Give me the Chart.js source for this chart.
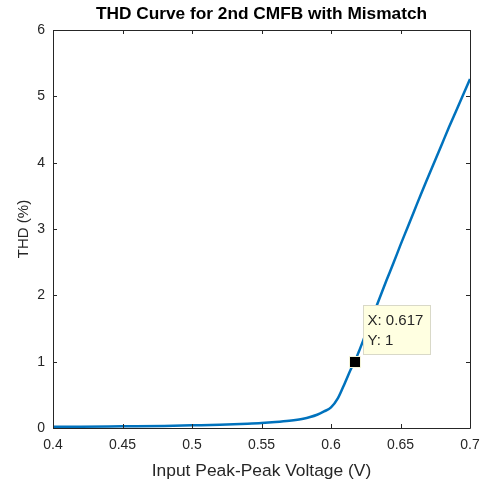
<!DOCTYPE html>
<html>
<head>
<meta charset="utf-8">
<script src="https://cdn.jsdelivr.net/npm/chart.js@4"></script>
<style>
  html, body { margin: 0; padding: 0; background: #fff; }
  #wrap { width: 483px; height: 482px; }
</style>
</head>
<body>
<div id="wrap"><canvas id="thd"></canvas></div>
<script>
// THD vs input peak-peak voltage
var voltage = [0.40, 0.42, 0.45, 0.48, 0.50, 0.52, 0.54, 0.55, 0.56, 0.57, 0.58, 0.585, 0.59, 0.595,
               0.60, 0.605, 0.61, 0.615, 0.617, 0.62, 0.625, 0.63, 0.635, 0.64, 0.645, 0.65, 0.655,
               0.66, 0.665, 0.67, 0.675, 0.68, 0.685, 0.69, 0.695, 0.70];
var thd = [0.02, 0.02, 0.025, 0.03, 0.04, 0.05, 0.065, 0.075, 0.09, 0.11, 0.14, 0.165, 0.20, 0.25,
           0.31, 0.45, 0.68, 0.92, 1.00, 1.15, 1.42, 1.69, 1.96, 2.23, 2.49, 2.76, 3.02,
           3.28, 3.54, 3.79, 4.04, 4.29, 4.54, 4.78, 5.02, 5.26];
var xTicks = [0.4, 0.45, 0.5, 0.55, 0.6, 0.65, 0.7];
var yTicks = [0, 1, 2, 3, 4, 5, 6];
var tipX = [0.617];
var tipY = [1];
var chartTitle = 'THD Curve for 2nd CMFB with Mismatch';

var axisColor = '#262626';
var font = 'Liberation Sans, Arial, Helvetica, sans-serif';

// box around plot area + inward ticks on all four sides, like matlab axes
var boxPlugin = {
    id: 'matlabBox',
    afterDatasetsDraw: function(chart) {
        var ctx = chart.ctx;
        var a = chart.chartArea;
        var xs = chart.scales.x;
        var ys = chart.scales.y;
        var len = 4;
        ctx.save();
        ctx.strokeStyle = axisColor;
        ctx.lineWidth = 1;
        ctx.beginPath();
        ctx.rect(Math.round(a.left) + 0.5, Math.round(a.top) + 0.5,
                 Math.round(a.right - a.left), Math.round(a.bottom - a.top));
        xTicks.forEach(function(v) {
            var px = Math.round(xs.getPixelForValue(v)) + 0.5;
            ctx.moveTo(px, a.bottom); ctx.lineTo(px, a.bottom - len);
            ctx.moveTo(px, a.top); ctx.lineTo(px, a.top + len);
        });
        yTicks.forEach(function(v) {
            var py = Math.round(ys.getPixelForValue(v)) + 0.5;
            ctx.moveTo(a.left, py); ctx.lineTo(a.left + len, py);
            ctx.moveTo(a.right, py); ctx.lineTo(a.right - len, py);
        });
        ctx.stroke();

        // title centred over the axes, not the canvas
        ctx.fillStyle = '#000';
        ctx.font = 'bold 17.3px ' + font;
        ctx.textAlign = 'center';
        ctx.textBaseline = 'middle';
        ctx.fillText(chartTitle, (a.left + a.right) / 2, 14);

        // data tip box next to the marker
        var mx = xs.getPixelForValue(tipX[0]);
        var my = ys.getPixelForValue(tipY[0]);
        var bx = Math.round(mx + 8) + 0.5;
        var by = Math.round(my - 57) + 0.5;
        ctx.fillStyle = '#ffffe1';
        ctx.strokeStyle = '#d9d9c8';
        ctx.fillRect(bx, by, 67, 49);
        ctx.strokeRect(bx, by, 67, 49);
        ctx.fillStyle = '#262626';
        ctx.font = '15px ' + font;
        ctx.textAlign = 'left';
        ctx.fillText('X: ' + tipX[0], bx + 4, by + 15);
        ctx.fillText('Y: ' + tipY[0], bx + 4, by + 35);

        // marker on top of everything
        ctx.fillStyle = '#000';
        ctx.strokeStyle = '#f4f4d8';
        ctx.fillRect(Math.round(mx) - 5, Math.round(my) - 5, 10, 10);
        ctx.strokeRect(Math.round(mx) - 5.5, Math.round(my) - 5.5, 11, 11);
        ctx.restore();
    }
};

var points = voltage.map(function(v, i) { return { x: v, y: thd[i] }; });

new Chart(document.getElementById('thd'), {
    type: 'line',
    data: {
        datasets: [{
            data: points,
            borderColor: '#0072bd',
            borderWidth: 2.5,
            pointRadius: 0,
            cubicInterpolationMode: 'monotone',
            fill: false
        }]
    },
    options: {
        responsive: true,
        maintainAspectRatio: false,
        animation: false,
        events: [],
        layout: { padding: { left: 0, right: 13, top: 30, bottom: 0 } },
        scales: {
            x: {
                type: 'linear',
                min: 0.4,
                max: 0.7,
                afterFit: function(s) { s.height = 54; s.paddingLeft = 0; s.paddingRight = 0; },
                afterBuildTicks: function(s) { s.ticks = xTicks.map(function(v) { return { value: v }; }); },
                grid: { display: false, drawTicks: false },
                border: { display: false },
                ticks: {
                    padding: 9,
                    maxRotation: 0,
                    autoSkip: false,
                    color: axisColor,
                    font: { family: font, size: 14 },
                    callback: function(v) { return String(+v.toFixed(2)); }
                },
                title: {
                    display: true,
                    text: 'Input Peak-Peak Voltage (V)',
                    color: axisColor,
                    padding: { top: 10, bottom: 0 },
                    font: { family: font, size: 17.4 }
                }
            },
            y: {
                min: 0,
                max: 6,
                afterFit: function(s) { s.width = 53; s.paddingTop = 0; s.paddingBottom = 0; },
                afterBuildTicks: function(s) { s.ticks = yTicks.map(function(v) { return { value: v }; }); },
                grid: { display: false, drawTicks: false },
                border: { display: false },
                ticks: {
                    padding: 8,
                    color: axisColor,
                    font: { family: font, size: 14 }
                },
                title: {
                    display: true,
                    text: 'THD (%)',
                    color: axisColor,
                    padding: { top: 15, bottom: 0 },
                    font: { family: font, size: 15 }
                }
            }
        },
        plugins: {
            legend: { display: false },
            tooltip: { enabled: false },
            title: { display: false }
        }
    },
    plugins: [boxPlugin]
});
</script>
</body>
</html>
